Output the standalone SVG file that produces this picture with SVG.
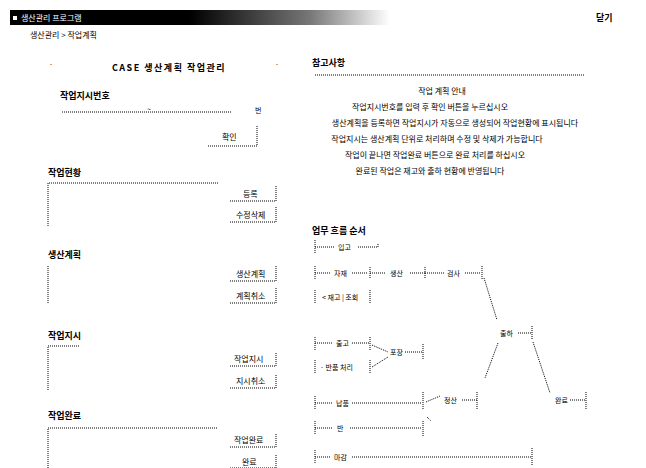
<svg xmlns="http://www.w3.org/2000/svg" width="646" height="468" viewBox="0 0 646 468">
<defs>
<linearGradient id="hg" x1="0" x2="1" y1="0" y2="0">
<stop offset="0" stop-color="#000"/>
<stop offset="0.6" stop-color="#777"/>
<stop offset="1" stop-color="#fff"/>
</linearGradient>
</defs>
<style>
text{font-family:"Noto Sans CJK KR","Liberation Sans",sans-serif;fill:#000;font-size:8px}
.b{font-weight:bold;font-size:9px}
.w{fill:#fff}
.d{stroke:#000;stroke-width:1;stroke-dasharray:1 1;fill:none}
.s{stroke:#000;stroke-width:1;fill:none}
.n{font-size:7px}
.c{text-anchor:middle}
</style>
<rect width="646" height="468" fill="#fff"/>
<g id="header">
<rect x="10" y="10" width="182" height="15" fill="#000"/>
<rect x="190" y="10" width="200" height="15" fill="url(#hg)"/>
<rect x="13" y="16" width="4" height="4" fill="#fff"/>
<text x="21" y="21" class="w">생산관리 프로그램</text>
<text x="596" y="21" class="b">닫기</text>
<text x="30" y="38">생산관리 &gt; 작업계획</text>
</g>
<g id="left-title">
<text x="49" y="67" class="n">·</text>
<text x="275" y="67" class="n">·</text>
<text x="169" y="71" class="b c" font-size="11" letter-spacing="1.5">CASE  생산계획  작업관리</text>
</g>
<g id="order-no">
<text x="60" y="99" class="b">작업지시번호</text>
<line class="d" x1="62" y1="112" x2="232" y2="112"/>
<text x="147" y="112" class="n">~</text>
<text x="255" y="113" class="n">번</text>
</g>
<g id="btn-ok">
<path class="d" d="M208 146 H257 V125"/>
<text x="222" y="140">확인</text>
</g>
<g id="sec-status">
<text x="48" y="176" class="b">작업현황</text>
<path class="d" d="M48 226 V183 H218"/>
<path class="d" d="M230 201 H276 V185"/>
<text x="243" y="197">등록</text>
<path class="d" d="M230 222 H276 V207"/>
<text x="236" y="218">수정삭제</text>
</g>
<g id="sec-plan">
<text x="48" y="258" class="b">생산계획</text>
<path class="d" d="M48 303 V265"/>
<path class="d" d="M230 281 H276 V266"/>
<text x="236" y="277">생산계획</text>
<path class="d" d="M230 303 H276 V288"/>
<text x="236" y="299">계획취소</text>
</g>
<g id="sec-order">
<text x="48" y="339" class="b">작업지시</text>
<path class="d" d="M48 390 V346 H80"/>
<path class="d" d="M230 366 H276 V352"/>
<text x="234" y="362">작업지시</text>
<path class="d" d="M230 388 H276 V374"/>
<text x="236" y="384">지시취소</text>
</g>
<g id="sec-done">
<text x="48" y="419" class="b">작업완료</text>
<path class="d" d="M48 468 V428 H218"/>
<path class="d" d="M230 447 H276 V433"/>
<text x="234" y="443">작업완료</text>
<path class="d" d="M230 468 H276 V455"/>
<text x="242" y="465">완료</text>
</g>
<g id="notes">
<text x="312" y="66" class="b">참고사항</text>
<line class="d" x1="315" y1="75" x2="585" y2="75"/>
<text x="442" y="94" class="c">작업 계획 안내</text>
<text x="430" y="110" class="c">작업지시번호를 입력 후 확인 버튼을 누르십시오</text>
<text x="455" y="126" class="c">생산계획을 등록하면 작업지시가 자동으로 생성되어 작업현황에 표시됩니다</text>
<text x="437" y="142" class="c">작업지시는 생산계획 단위로 처리하며 수정 및 삭제가 가능합니다</text>
<text x="435" y="158" class="c">작업이 끝나면 작업완료 버튼으로 완료 처리를 하십시오</text>
<text x="430" y="174" class="c">완료된 작업은 재고와 출하 현황에 반영됩니다</text>
</g>
<g id="flow-title">
<text x="312" y="234" class="b">업무 흐름 순서</text>
</g>
<g id="connectors">
<path class="d" d="M315 240 V254 M315 247 H335 M358 247 H378 V243"/>
<path class="d" d="M315 266 V280 M315 273 H330 M352 273 H368 M370 267 V279 M370 273 H385 M410 273 H425 M425 267 V279 M425 273 H445 M465 273 H480 M482 266 V280"/>
<path class="d" d="M484 278 L497 320"/>
<path class="d" d="M518 333 H532 M532 326 V340"/>
<path class="d" d="M498 343 L485 378"/>
<path class="d" d="M533 342 L550 393"/>
<path class="d" d="M570 400 H585 M586 392 V410"/>
<path class="d" d="M315 290 V304 M370 290 V304"/>
<path class="d" d="M315 337 V351 M315 343 H333 M352 343 H370 M370 337 V350 M372 345 L388 352 M405 352 H423 M423 344 V360"/>
<path class="d" d="M315 360 V374 M370 360 V374 M372 367 L388 357"/>
<path class="d" d="M315 396 V410 M315 403 H333 M352 403 H422 M423 392 V410 M426 402 L440 396 M462 400 H477 M477 392 V410"/>
<path class="d" d="M315 421 V435 M315 428 H333 M350 428 H422 M423 421 V436 M427 417 L431 421"/>
<path class="d" d="M315 450 V464 M315 457 H330 M352 457 H532 M532 448 V466"/>
</g>
<g id="n-in"><text x="338" y="250" class="n">입고</text></g>
<g id="n-mat"><text x="334" y="276" class="n">자재</text></g>
<g id="n-prod"><text x="390" y="276" class="n">생산</text></g>
<g id="n-chk"><text x="447" y="276" class="n">검사</text></g>
<g id="n-ship"><text x="500" y="336" class="n">출하</text></g>
<g id="n-end"><text x="555" y="403" class="n">완료</text></g>
<g id="n-stock"><text x="322" y="300" class="n">&lt; 재고 | 조회</text></g>
<g id="n-out"><text x="336" y="346" class="n">출고</text></g>
<g id="n-pack"><text x="390" y="355" class="n">포장</text></g>
<g id="n-ret"><text x="320" y="370" class="n">· 반품 처리</text></g>
<g id="n-deliv"><text x="336" y="406" class="n">납품</text></g>
<g id="n-calc"><text x="444" y="403" class="n">정산</text></g>
<g id="n-back"><text x="337" y="431" class="n">반</text></g>
<g id="n-close"><text x="334" y="460" class="n">마감</text></g>
</svg>
